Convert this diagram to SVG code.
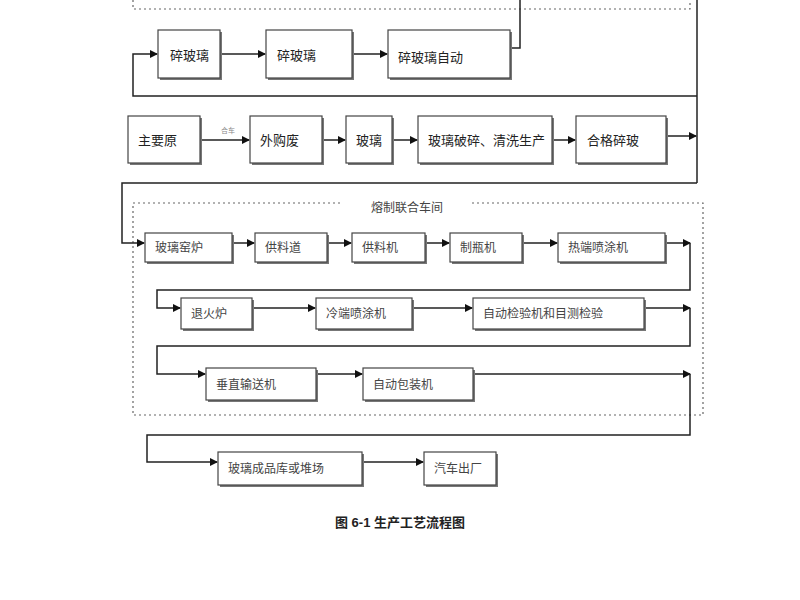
<svg xmlns="http://www.w3.org/2000/svg" width="800" height="600" viewBox="0 0 800 600">
<style>
.b{fill:#fff;stroke:#444;stroke-width:1.2}
.s{fill:#777}
.t{font-family:"Liberation Sans","Noto Sans CJK SC",sans-serif;font-size:13px;fill:#222}
.t2{font-family:"Liberation Serif","Noto Sans CJK SC",serif;font-size:12px;fill:#444}
.c{fill:none;stroke:#222;stroke-width:1.5}
.d{fill:none;stroke:#666;stroke-width:1.2;stroke-dasharray:2,3}
</style>
<defs><marker id="a" markerWidth="8" markerHeight="8" refX="7" refY="4" orient="auto" markerUnits="userSpaceOnUse"><path d="M0,0L8,4L0,8z" fill="#111"/></marker></defs>
<rect width="800" height="600" fill="#fff"/>
<path class="d" d="M133,0V9H690V0"/>
<path class="d" d="M340,203H133V415H703V203H470"/>
<text x="407" y="212" class="t2" text-anchor="middle">熔制联合车间</text>
<g id="connectors">
<path class="c" d="M510,48H520V0"/>
<path class="c" d="M697,0V183"/>
<path class="c" d="M697,96H133V54H157" marker-end="url(#a)"/>
<path class="c" d="M220,54H265" marker-end="url(#a)"/>
<path class="c" d="M352,54H387" marker-end="url(#a)"/>
<path class="c" d="M200,140H249" marker-end="url(#a)"/>
<text x="228" y="133" font-family="Liberation Serif,Noto Sans CJK SC,serif" font-size="7" fill="#888" text-anchor="middle">合车</text>
<path class="c" d="M322,140H345" marker-end="url(#a)"/>
<path class="c" d="M392,140H417" marker-end="url(#a)"/>
<path class="c" d="M552,140H575" marker-end="url(#a)"/>
<path class="c" d="M668,136H696" marker-end="url(#a)"/>
<path class="c" d="M697,183H122V243H144" marker-end="url(#a)"/>
<path class="c" d="M232,243H254" marker-end="url(#a)"/>
<path class="c" d="M327,243H351" marker-end="url(#a)"/>
<path class="c" d="M425,243H449" marker-end="url(#a)"/>
<path class="c" d="M522,243H557" marker-end="url(#a)"/>
<path class="c" d="M665,243H690" marker-end="url(#a)"/>
<path class="c" d="M690,243V290H157V308H180" marker-end="url(#a)"/>
<path class="c" d="M252,308H315" marker-end="url(#a)"/>
<path class="c" d="M412,308H472" marker-end="url(#a)"/>
<path class="c" d="M644,308H690" marker-end="url(#a)"/>
<path class="c" d="M690,308V346H157V374H205" marker-end="url(#a)"/>
<path class="c" d="M316,374H362" marker-end="url(#a)"/>
<path class="c" d="M473,374H690" marker-end="url(#a)"/>
<path class="c" d="M690,374V435H147V462H217" marker-end="url(#a)"/>
<path class="c" d="M362,462H423" marker-end="url(#a)"/>
</g>
<g id="n1"><rect class="s" x="160" y="32" width="62" height="48"/><rect class="b" x="158" y="30" width="62" height="48"/><text class="t" x="170" y="60">碎玻璃</text></g>
<g id="n2"><rect class="s" x="268" y="32" width="86" height="48"/><rect class="b" x="266" y="30" width="86" height="48"/><text class="t" x="277" y="60">碎玻璃</text></g>
<g id="n3"><rect class="s" x="390" y="32" width="122" height="48"/><rect class="b" x="388" y="30" width="122" height="48"/><text class="t" x="398" y="62">碎玻璃自动</text></g>
<g id="n4"><rect class="s" x="130" y="118" width="72" height="47"/><rect class="b" x="128" y="116" width="72" height="47"/><text class="t" x="138" y="145">主要原</text></g>
<g id="n5"><rect class="s" x="252" y="118" width="72" height="47"/><rect class="b" x="250" y="116" width="72" height="47"/><text class="t" x="260" y="145">外购废</text></g>
<g id="n6"><rect class="s" x="348" y="118" width="46" height="47"/><rect class="b" x="346" y="116" width="46" height="47"/><text class="t" x="356" y="145">玻璃</text></g>
<g id="n7"><rect class="s" x="420" y="118" width="134" height="47"/><rect class="b" x="418" y="116" width="134" height="47"/><text class="t" x="428" y="145">玻璃破碎、清洗生产</text></g>
<g id="n8"><rect class="s" x="578" y="118" width="90" height="47"/><rect class="b" x="576" y="116" width="90" height="47"/><text class="t" x="587" y="145">合格碎玻</text></g>
<g id="n9"><rect class="s" x="147" y="235" width="87" height="29"/><rect class="b" x="145" y="233" width="87" height="29"/><text class="t2" x="155" y="252">玻璃窑炉</text></g>
<g id="n10"><rect class="s" x="257" y="235" width="72" height="29"/><rect class="b" x="255" y="233" width="72" height="29"/><text class="t2" x="265" y="252">供料道</text></g>
<g id="n11"><rect class="s" x="354" y="235" width="73" height="29"/><rect class="b" x="352" y="233" width="73" height="29"/><text class="t2" x="362" y="252">供料机</text></g>
<g id="n12"><rect class="s" x="452" y="235" width="72" height="29"/><rect class="b" x="450" y="233" width="72" height="29"/><text class="t2" x="460" y="252">制瓶机</text></g>
<g id="n13"><rect class="s" x="560" y="235" width="107" height="29"/><rect class="b" x="558" y="233" width="107" height="29"/><text class="t2" x="568" y="252">热端喷涂机</text></g>
<g id="n14"><rect class="s" x="183" y="300" width="71" height="31"/><rect class="b" x="181" y="298" width="71" height="31"/><text class="t2" x="191" y="318">退火炉</text></g>
<g id="n15"><rect class="s" x="318" y="300" width="96" height="31"/><rect class="b" x="316" y="298" width="96" height="31"/><text class="t2" x="326" y="318">冷端喷涂机</text></g>
<g id="n16"><rect class="s" x="475" y="300" width="171" height="31"/><rect class="b" x="473" y="298" width="171" height="31"/><text class="t2" x="483" y="318">自动检验机和目测检验</text></g>
<g id="n17"><rect class="s" x="208" y="370" width="110" height="32"/><rect class="b" x="206" y="368" width="110" height="32"/><text class="t2" x="216" y="389">垂直输送机</text></g>
<g id="n18"><rect class="s" x="365" y="370" width="110" height="32"/><rect class="b" x="363" y="368" width="110" height="32"/><text class="t2" x="373" y="389">自动包装机</text></g>
<g id="n19"><rect class="s" x="220" y="454" width="144" height="33"/><rect class="b" x="218" y="452" width="144" height="33"/><text class="t2" x="228" y="473">玻璃成品库或堆场</text></g>
<g id="n20"><rect class="s" x="426" y="454" width="72" height="33"/><rect class="b" x="424" y="452" width="72" height="33"/><text class="t2" x="434" y="473">汽车出厂</text></g>
<text x="400" y="527" text-anchor="middle" font-family="Liberation Sans,Noto Sans CJK SC,sans-serif" font-size="13" font-weight="bold" fill="#222">图 6-1 生产工艺流程图</text>
</svg>
